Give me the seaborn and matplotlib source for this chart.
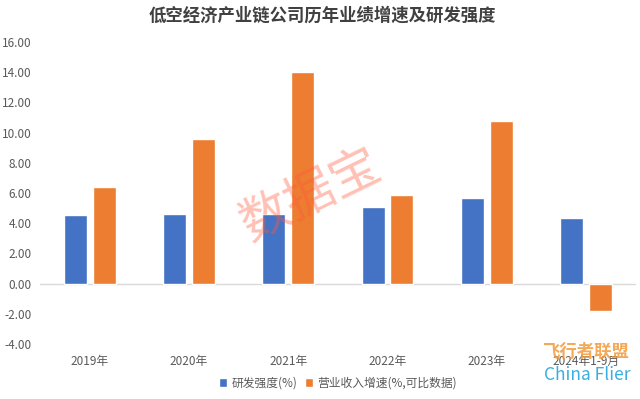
import matplotlib
matplotlib.use("Agg")
import matplotlib.pyplot as plt
import seaborn as sns
import pandas as pd
from matplotlib.ticker import FormatStrFormatter

categories = ["2019年", "2020年", "2021年", "2022年", "2023年", "2024年1-9月"]
series_names = ["研发强度(%)", "营业收入增速(%,可比数据)"]
rd_intensity = [4.56, 4.60, 4.62, 5.10, 5.65, 4.36]
revenue_growth = [6.42, 9.55, 14.00, 5.83, 10.78, -1.80]
y_ticks = [-4, -2, 0, 2, 4, 6, 8, 10, 12, 14, 16]

df = pd.DataFrame({
    "year": categories * 2,
    "series": [series_names[0]] * len(categories) + [series_names[1]] * len(categories),
    "value": rd_intensity + revenue_growth,
})

sns.set_theme(style="white")
plt.rcParams["font.family"] = ["Noto Sans CJK SC", "DejaVu Sans"]
plt.rcParams["axes.unicode_minus"] = False

fig = plt.figure(figsize=(6.4, 3.99), dpi=100)
ax = fig.add_axes([0.0625, 0.138, 0.931, 0.757])

palette = {series_names[0]: "#4472C4", series_names[1]: "#ED7D31"}
sns.barplot(data=df, x="year", y="value", hue="series", palette=palette,
            order=categories, hue_order=series_names, width=0.58, gap=0.2,
            saturation=1, ax=ax, legend=True)

ax.set_ylim(-4, 16)
ax.set_xlim(-0.5, 5.5)
ax.set_yticks(y_ticks)
ax.yaxis.set_major_formatter(FormatStrFormatter("%.2f"))
ax.axhline(0, color="#d9d9d9", lw=1, zorder=0.5)
for s in ax.spines.values():
    s.set_visible(False)
ax.set_xlabel("")
ax.set_ylabel("")
ax.tick_params(axis="both", length=0, labelsize=8.5, labelcolor="#595959")
ax.tick_params(axis="x", pad=8)
ax.tick_params(axis="y", pad=6)

leg = ax.legend(loc="center", bbox_to_anchor=(0.5, -0.13), ncol=2,
                frameon=False, fontsize=8.5, handlelength=0.7, handleheight=0.7,
                handletextpad=0.4, columnspacing=0.6, borderpad=0.1)
for t in leg.get_texts():
    t.set_color("#595959")

fig.text(0.503, 0.962, "低空经济产业链公司历年业绩增速及研发强度", ha="center", va="center",
         fontsize=12.5, fontweight="bold", color="#404040")

# watermarks
fig.text(0.485, 0.51, "数据宝", ha="center", va="center", fontsize=36, rotation=26,
         color="#ff5a3c", alpha=0.38)
fig.text(0.915, 0.118, "飞行者联盟", ha="center", va="center", fontsize=12.5,
         fontweight="bold", color="#f29a3a", alpha=0.85)
fig.text(0.918, 0.06, "China Flier", ha="center", va="center", fontsize=12.5,
         color="#3aaee0")

fig.savefig("out.png", dpi=100)
